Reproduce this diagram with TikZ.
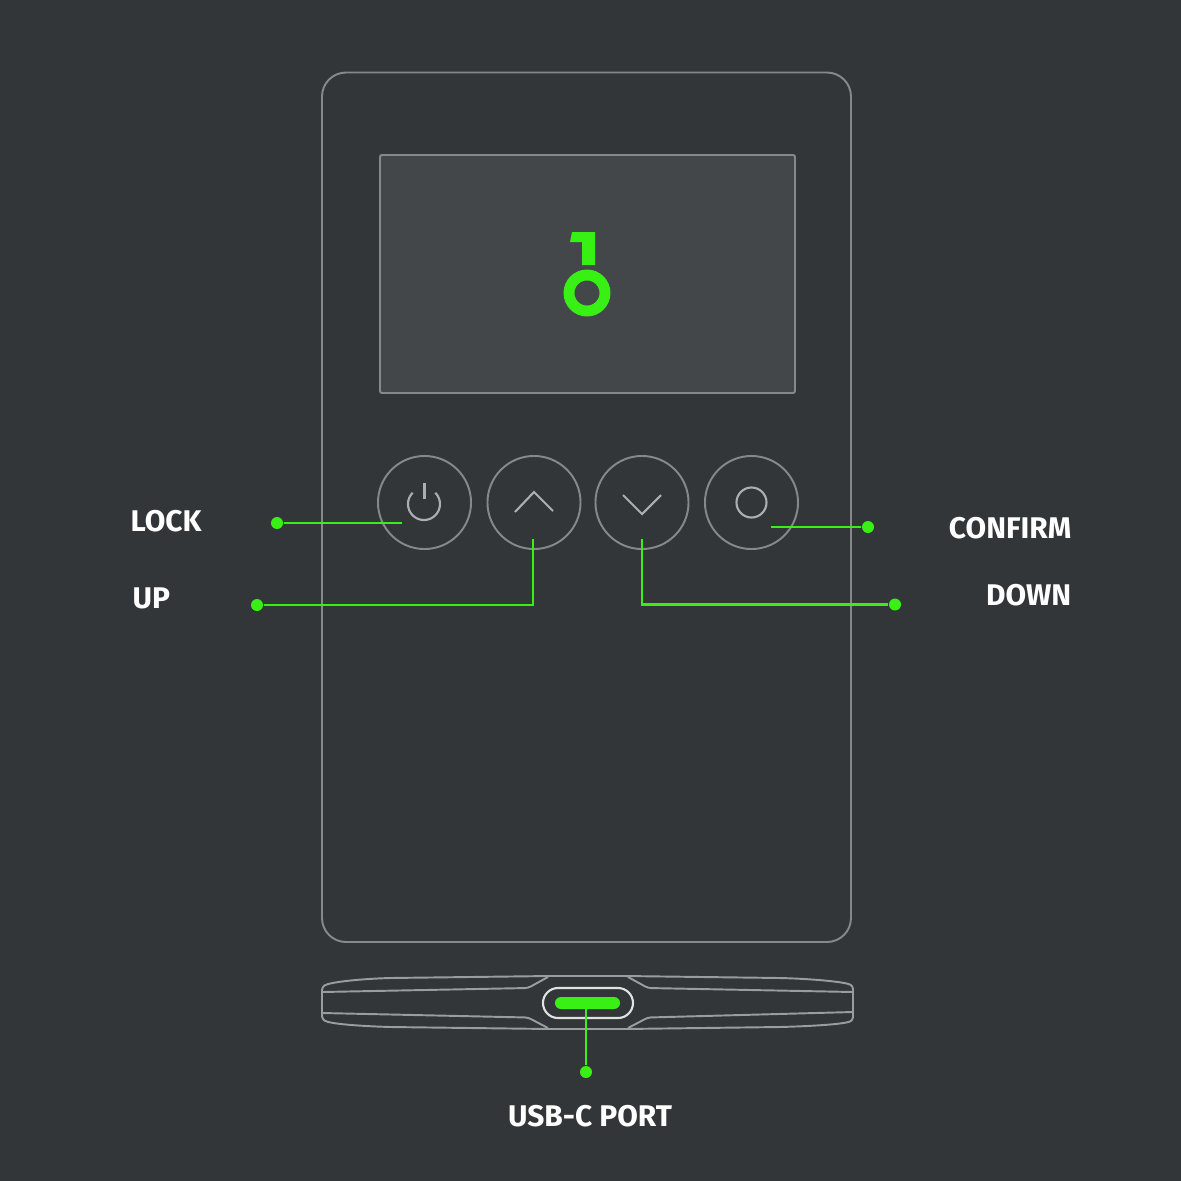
\documentclass[tikz,border=0pt]{standalone}
\usepackage{fontspec}
\setmainfont{Fira Sans}
\definecolor{bgdark}{HTML}{323638}
\definecolor{screengray}{HTML}{43474A}
\definecolor{edgegray}{HTML}{85898B}
\definecolor{icongray}{HTML}{ACAFB0}
\definecolor{keygreen}{HTML}{39F014}
\tikzset{
  outline/.style={draw=edgegray,line width=0.55pt},
  iconline/.style={draw=icongray,line width=0.6pt},
  sideline/.style={draw=icongray!85!bgdark,line width=0.55pt,rounded corners=0.03cm},
  lead/.style={draw=keygreen,line width=0.6pt},
  button/.style={circle,outline,inner sep=0pt,minimum size=0.93cm},
  leaddot/.style={circle,fill=keygreen,inner sep=0pt,minimum size=0.12cm},
  caption/.style={text=white,font=\fontsize{8.5}{10}\selectfont\bfseries,inner sep=0pt},
}
\begin{document}
\begin{tikzpicture}[x=0.01cm,y=-0.01cm]
\fill[bgdark] (0,0) rectangle (1181,1181);
\useasboundingbox (0,0) rectangle (1181,1181);
% body and screen
\draw[outline,rounded corners=0.24cm] (322,72.5) rectangle (851,942);
\draw[outline,fill=screengray,rounded corners=0.02cm] (380,155) rectangle (795,393);
% key logo
\fill[keygreen] (572,232) -- (595,232) -- (595,265) -- (582,265) -- (582,242) -- (570,242) -- cycle;
\node[circle,draw=keygreen,line width=3.1pt,inner sep=0pt,minimum size=0.36cm] (ring) at (587,293) {};
% buttons
\node[button] (lock) at (424.5,502.5) {};
\node[button] (up) at (534,502.5) {};
\node[button] (down) at (642,502.5) {};
\node[button] (confirm) at (751.5,502.5) {};
\draw[iconline] (435.3,492.7) arc (-45:225:16);
\draw[iconline] (424.5,483) -- (424.5,499);
\draw[iconline] (515,512) -- (534,492) -- (553,511);
\draw[iconline] (623,495) -- (642,514) -- (661,495);
\node[circle,iconline,inner sep=0pt,minimum size=0.30cm] (dotmark) at (751.5,502.5) {};
% side view
\draw[sideline] (322,987) .. controls (330,982) and (360,979) .. (390,978) -- (550,976) -- (625,976) -- (780,978) .. controls (815,979) and (845,982) .. (853,986)
  -- (853,1020) .. controls (845,1024) and (815,1026) .. (780,1027) -- (625,1029) -- (550,1029) -- (390,1027) .. controls (360,1026) and (330,1024) .. (322,1019) -- cycle;
\draw[sideline] (322,992) -- (528,988) -- (548,977);
\draw[sideline] (322,1013) -- (528,1017.5) -- (548,1028);
\draw[sideline] (853,992) -- (648,988) -- (628,977);
\draw[sideline] (853,1012) -- (648,1017.5) -- (628,1028);
\draw[draw=white!85!bgdark,line width=0.6pt,rounded corners=0.15cm] (543,988) rectangle (633,1018);
\node[fill=keygreen,rounded corners=0.06cm,inner sep=0pt,minimum width=0.65cm,minimum height=0.12cm] (port) at (587.5,1003) {};
% leads
\node[leaddot] (lockdot) at (277,523) {};
\node[leaddot] (updot) at (257,605) {};
\node[leaddot] (confirmdot) at (868,527) {};
\node[leaddot] (downdot) at (895,604.5) {};
\node[leaddot] (portdot) at (586,1072) {};
\coordinate (lockend) at (402,523);
\coordinate (upend) at (533,539);
\coordinate (confirmend) at (771,527);
\coordinate (downend) at (642,539);
\coordinate (upcorner) at (533,605);
\coordinate (downcorner) at (642,604.5);
\coordinate (portend) at (586,1009);
\draw[lead] (lockdot) -- (lockend);
\draw[lead] (updot) -- (upcorner) -- (upend);
\draw[lead] (confirmend) -- (confirmdot);
\draw[lead] (downend) -- (downcorner) -- (downdot);
\draw[lead] (portend) -- (portdot);
% labels
\node[caption,anchor=west] (locklabel) at (130,521.5) {LOCK};
\node[caption,anchor=west] (uplabel) at (132,598.5) {UP};
\node[caption,anchor=east] (confirmlabel) at (1072,528) {CONFIRM};
\node[caption,anchor=east] (downlabel) at (1072,595) {DOWN};
\node[caption] (portlabel) at (590,1116) {USB-C PORT};
\end{tikzpicture}
\end{document}
